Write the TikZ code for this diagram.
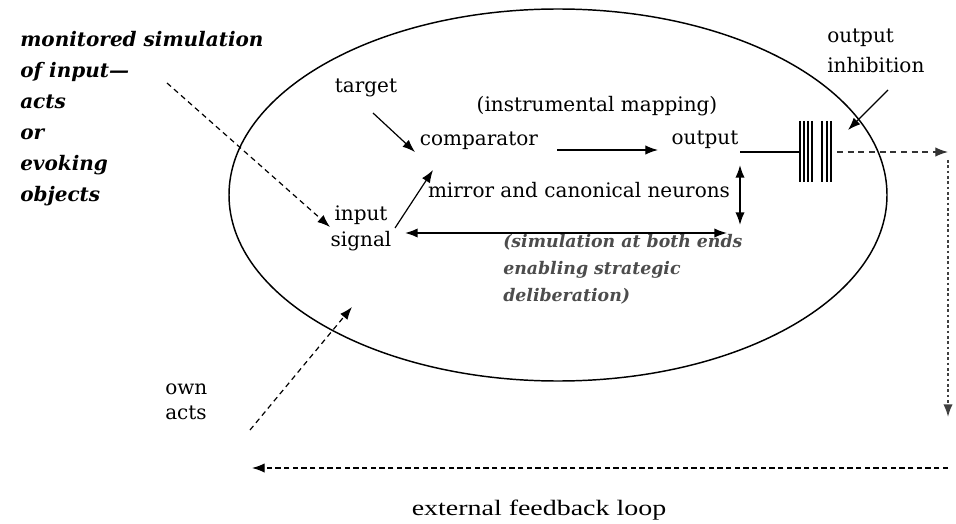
\documentclass[tikz,border=0pt]{standalone}
\usepackage{fontspec}
\setmainfont{DejaVu Serif}
\newfontfamily\timesfont{Liberation Serif}
\usetikzlibrary{arrows.meta}

\tikzset{
  lbl/.style={inner sep=0pt, font=\fontsize{15}{19.5}\selectfont},
  boldit/.style={inner sep=0pt, align=left, font=\fontsize{15}{23.25}\selectfont\bfseries\itshape},
  noteit/.style={inner sep=0pt, align=left, text=black!70, font=\fontsize{13}{20.25}\selectfont\bfseries\itshape},
  tip/.style={-{Latex[length=9.5pt,width=7pt]}},
  bothtips/.style={{Latex[length=9.5pt,width=7pt]}-{Latex[length=9.5pt,width=7pt]}},
  solidarrow/.style={tip, line width=0.9pt},
  dasharrow/.style={tip, line width=0.9pt, dash pattern=on 4pt off 3pt},
  dotline/.style={tip, line width=1.2pt, black!75, dash pattern=on 2pt off 2pt},
  bar/.style={line width=1.5pt}
}

\begin{document}
\begin{tikzpicture}[x=0.75pt, y=-0.75pt]
\path[use as bounding box] (0,0) rectangle (956,524);

% the simulation system
\draw[line width=1.1pt] (558,195) ellipse [x radius=329, y radius=186];

% labels
\node[boldit, anchor=north west] (mon) at (20,31)
  {monitored simulation\\of input---\\acts\\or\\evoking\\objects};
\node[lbl] (target) at (366,88) {target};
\node[lbl] (instr) at (597,106) {(instrumental mapping)};
\node[lbl] (comparator) at (479,141) {comparator};
\node[lbl] (output) at (705,140) {output};
\node[lbl] (mirror) at (579,190) {mirror and canonical neurons};
\node[lbl, align=center] (input) at (361,228) {input\\signal};
\node[noteit, anchor=north west] (note) at (503,234)
  {(simulation at both ends\\enabling strategic\\deliberation)};
\node[lbl, align=left, anchor=north west, font=\fontsize{15}{22.5}\selectfont] (inhib) at (827,29)
  {output\\inhibition};
\node[lbl, align=left, anchor=north west, font=\fontsize{15}{18.75}\selectfont] (own) at (165,384)
  {own\\acts};
\node[inner sep=0pt, font=\timesfont\fontsize{16.5}{20}\selectfont] (loop) at (539,510)
  {\scalebox{1.27}[1]{external feedback loop}};

% output gate and external loop corners
\coordinate (gate) at (815,152);
\coordinate (corner) at (948,152);
\coordinate (fbR) at (948,468);
\coordinate (fbL) at (252,468);

% connectors inside the system
\draw[dasharrow] ([shift={(147,52)}]mon.north west) -- ([shift={(-31,-1)}]input.center);
\draw[solidarrow] ([shift={(7,25)}]target.center) -- ([shift={(-64,11)}]comparator.center);
\draw[solidarrow] ([shift={(78,9)}]comparator.center) -- ([shift={(-47,10)}]output.center);
\draw[solidarrow] ([shift={(34,0)}]input.center) -- ([shift={(-46,29)}]comparator.center);
\draw[bothtips, line width=1.2pt] ([shift={(44,5)}]input.center) -- ([shift={(148,43)}]mirror.center);
\draw[bothtips, line width=1.2pt] ([shift={(161,-25)}]mirror.center) -- ([shift={(161,35)}]mirror.center);

% output line through the inhibition gate
\draw[line width=0.9pt] ([shift={(35,12)}]output.center) -- ([shift={(-16,0)}]gate);
\foreach \dx in {-15,-11,-7,-3,7,11.5,16}
  \draw[bar] ([shift={(\dx,-31)}]gate) -- ([shift={(\dx,30)}]gate);
\draw[dasharrow, black!80, dash pattern=on 4.5pt off 3.5pt] ([shift={(22,0)}]gate) -- (corner);
\draw[solidarrow] ([shift={(61,61)}]inhib.north west) -- ([shift={(21,101)}]inhib.north west);

% external feedback loop
\draw[dotline] ([shift={(0,8)}]corner) -- ([shift={(0,-51)}]fbR);
\draw[dasharrow, dash pattern=on 4pt off 2.5pt] (fbR) -- (fbL);
\draw[dasharrow] ([shift={(85,46)}]own.north west) -- ([shift={(187,-77)}]own.north west);
\end{tikzpicture}
\end{document}
